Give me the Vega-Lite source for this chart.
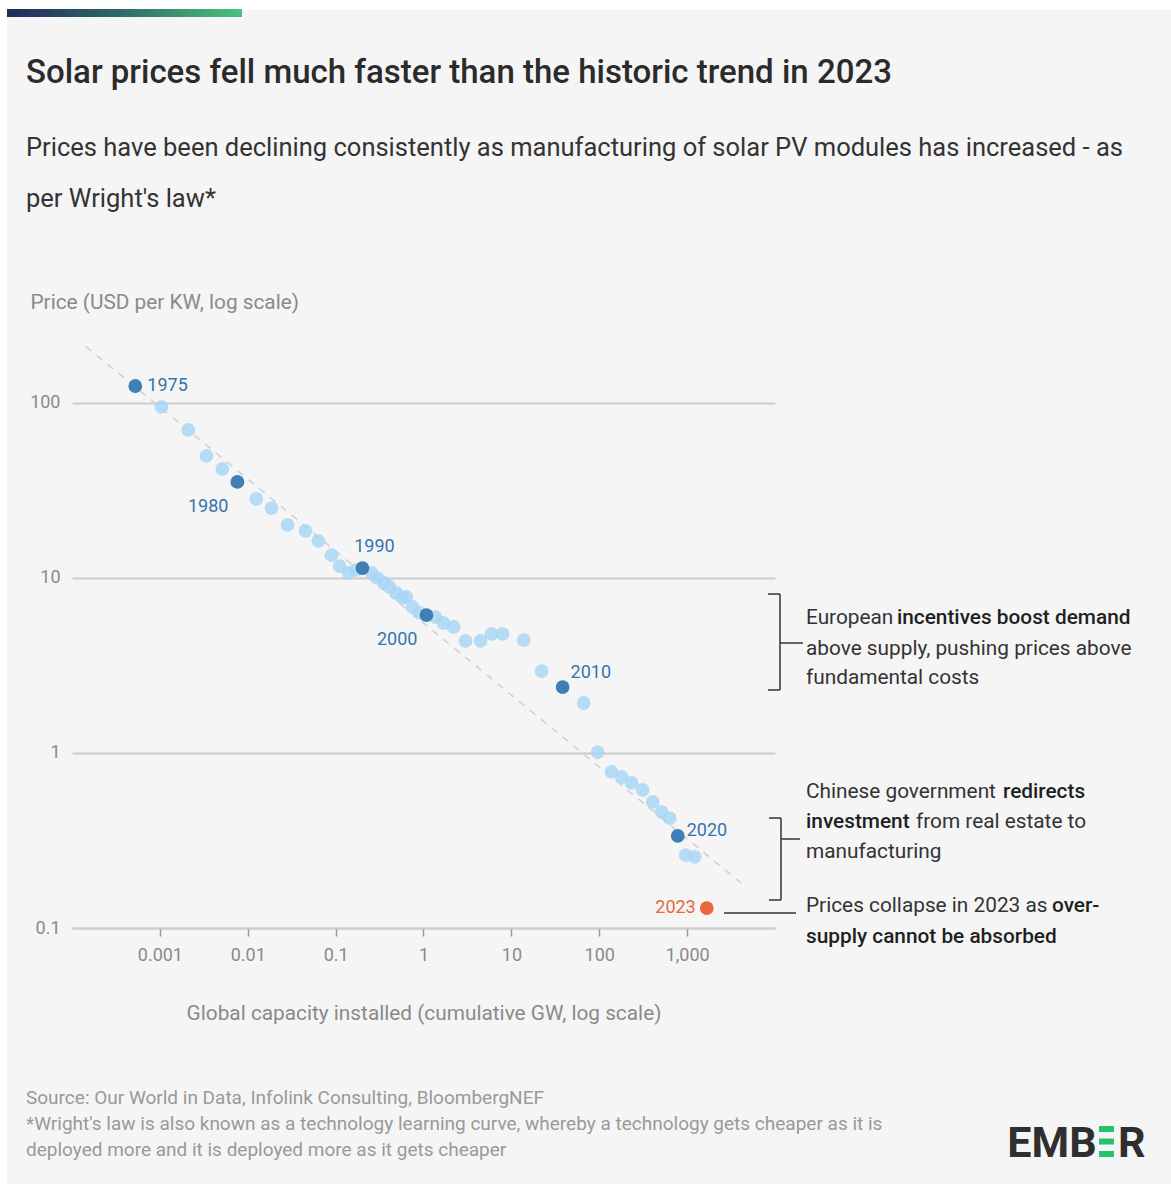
{
  "$schema": "https://vega.github.io/schema/vega-lite/v6.json",
  "width": 703,
  "height": 612,
  "autosize": {"type": "none"},
  "padding": {"left": 72, "top": 316, "right": 396, "bottom": 256},
  "background": "#f5f5f5",
  "config": {
    "font": "Roboto",
    "view": {"stroke": null}
  },
  "title": {
    "text": "Solar prices fell much faster than the historic trend in 2023",
    "subtitle": ["Prices have been declining consistently as manufacturing of solar PV modules has increased - as", "per Wright's law*"],
    "anchor": "start",
    "frame": "bounds",
    "offset": -213,
    "dx": 26,
    "fontSize": 33,
    "fontWeight": 500,
    "color": "#2b2b2b",
    "subtitleFontSize": 25.5,
    "subtitleColor": "#333333",
    "subtitleLineHeight": 51,
    "subtitlePadding": 46
  },
  "datasets": {
    "prices": [
      {"year": 1975, "gw": 0.000525, "price": 125},
      {"year": 1976, "gw": 0.00104, "price": 94.9},
      {"year": 1977, "gw": 0.0021, "price": 70.1},
      {"year": 1978, "gw": 0.00338, "price": 49.8},
      {"year": 1979, "gw": 0.00514, "price": 42.0},
      {"year": 1980, "gw": 0.00762, "price": 35.4},
      {"year": 1981, "gw": 0.0125, "price": 28.3},
      {"year": 1982, "gw": 0.0186, "price": 25.1},
      {"year": 1983, "gw": 0.0283, "price": 20.1},
      {"year": 1984, "gw": 0.0453, "price": 18.6},
      {"year": 1985, "gw": 0.0637, "price": 16.3},
      {"year": 1986, "gw": 0.0896, "price": 13.5},
      {"year": 1987, "gw": 0.111, "price": 11.7},
      {"year": 1988, "gw": 0.14, "price": 10.7},
      {"year": 1989, "gw": 0.168, "price": 11.1},
      {"year": 1990, "gw": 0.202, "price": 11.4},
      {"year": 1991, "gw": 0.256, "price": 10.7},
      {"year": 1992, "gw": 0.299, "price": 10.0},
      {"year": 1993, "gw": 0.36, "price": 9.36},
      {"year": 1994, "gw": 0.41, "price": 8.88},
      {"year": 1995, "gw": 0.493, "price": 8.21},
      {"year": 1996, "gw": 0.577, "price": 7.69},
      {"year": 1997, "gw": 0.64, "price": 7.79},
      {"year": 1998, "gw": 0.75, "price": 6.83},
      {"year": 1999, "gw": 0.9, "price": 6.31},
      {"year": 2000, "gw": 1.08, "price": 6.14},
      {"year": 2001, "gw": 1.37, "price": 5.98},
      {"year": 2002, "gw": 1.69, "price": 5.53},
      {"year": 2003, "gw": 2.2, "price": 5.25},
      {"year": 2004, "gw": 3.01, "price": 4.37},
      {"year": 2005, "gw": 4.46, "price": 4.37},
      {"year": 2006, "gw": 5.95, "price": 4.79},
      {"year": 2007, "gw": 7.94, "price": 4.79},
      {"year": 2008, "gw": 13.8, "price": 4.42},
      {"year": 2009, "gw": 22.1, "price": 2.94},
      {"year": 2010, "gw": 38.3, "price": 2.38},
      {"year": 2011, "gw": 66.4, "price": 1.93},
      {"year": 2012, "gw": 95.9, "price": 1.01},
      {"year": 2013, "gw": 138, "price": 0.779},
      {"year": 2014, "gw": 180, "price": 0.729},
      {"year": 2015, "gw": 234, "price": 0.674},
      {"year": 2016, "gw": 312, "price": 0.615},
      {"year": 2017, "gw": 406, "price": 0.525},
      {"year": 2018, "gw": 514, "price": 0.461},
      {"year": 2019, "gw": 634, "price": 0.425},
      {"year": 2020, "gw": 782, "price": 0.336},
      {"year": 2021, "gw": 964, "price": 0.261},
      {"year": 2022, "gw": 1222, "price": 0.255},
      {"year": 2023, "gw": 1672, "price": 0.13}
    ],
    "trend": [
      {"gw": 0.000144, "price": 210},
      {"gw": 4150, "price": 0.18}
    ],
    "margins": [
      {"gw": 1.516e-5, "gw2": 1.82e-5, "price": 20070, "price2": 0.003445},
      {"gw": 1.516e-5, "gw2": 3.21e8, "price": 20070, "price2": 17600}
    ],
    "accent": [
      {"gw": 1.82e-5, "gw2": 0.0086, "price": 17830, "price2": 16050}
    ],
    "brackets": [
      {"gw": 11400, "gw2": 11400, "price": 8.096, "price2": 2.291},
      {"gw": 8324, "gw2": 11400, "price": 8.096, "price2": 8.096},
      {"gw": 8324, "gw2": 11400, "price": 2.291, "price2": 2.291},
      {"gw": 11400, "gw2": 20830, "price": 4.25, "price2": 4.25},
      {"gw": 11700, "gw2": 11700, "price": 0.4251, "price2": 0.1445},
      {"gw": 8545, "gw2": 11700, "price": 0.4251, "price2": 0.4251},
      {"gw": 8545, "gw2": 11700, "price": 0.1445, "price2": 0.1445},
      {"gw": 11700, "gw2": 19250, "price": 0.3225, "price2": 0.3225},
      {"gw": 2627, "gw2": 17340, "price": 0.1219, "price2": 0.1219}
    ],
    "notes_plain": [
      {"gw": 22530, "price": 5.458, "text": "European"},
      {"gw": 22530, "price": 3.63, "text": "above supply, pushing prices above"},
      {"gw": 22530, "price": 2.479, "text": "fundamental costs"},
      {"gw": 22530, "price": 0.5531, "text": "Chinese government"},
      {"gw": 402300, "price": 0.3727, "text": "from real estate to"},
      {"gw": 22530, "price": 0.2512, "text": "manufacturing"},
      {"gw": 22530, "price": 0.1234, "text": "Prices collapse in 2023 as"}
    ],
    "notes_bold": [
      {"gw": 244500, "price": 5.458, "text": "incentives boost demand"},
      {"gw": 3932000, "price": 0.5531, "text": "redirects"},
      {"gw": 22530, "price": 0.3727, "text": "investment"},
      {"gw": 14200000, "price": 0.1234, "text": "over-"},
      {"gw": 22530, "price": 0.0821, "text": "supply cannot be absorbed"}
    ],
    "footer": [
      {"gw": 2.996e-5, "price": 0.00987, "text": "Source: Our World in Data, Infolink Consulting, BloombergNEF"},
      {"gw": 2.996e-5, "price": 0.007014, "text": "*Wright's law is also known as a technology learning curve, whereby a technology gets cheaper as it is"},
      {"gw": 2.996e-5, "price": 0.00498, "text": "deployed more and it is deployed more as it gets cheaper"}
    ],
    "logo_text": [
      {"gw": 4400000, "price": 0.004914, "text": "EMB"},
      {"gw": 80000000, "price": 0.004914, "text": "R"}
    ],
    "logo_bars": [
      {"gw": 48640000, "gw2": 72100000, "price": 0.007106, "price2": 0.007106},
      {"gw": 48640000, "gw2": 72100000, "price": 0.006026, "price2": 0.006026},
      {"gw": 48640000, "gw2": 72100000, "price": 0.005112, "price2": 0.005112}
    ]
  },
  "encoding": {
    "x": {
      "field": "gw",
      "type": "quantitative",
      "scale": {"type": "log", "domain": [0.0001, 10000], "nice": false},
      "axis": {
        "title": "Global capacity installed (cumulative GW, log scale)",
        "values": [0.001, 0.01, 0.1, 1, 10, 100, 1000],
        "format": ",~g",
        "grid": false,
        "domainColor": "#cccccc",
        "domainWidth": 2,
        "tickColor": "#999999",
        "tickSize": 8,
        "tickWidth": 1.5,
        "labelPadding": 10,
        "labelFontSize": 18,
        "labelColor": "#8a8a8a",
        "titleFontSize": 20.8,
        "titleFontWeight": "normal",
        "titleColor": "#8a8a8a",
        "titleBaseline": "middle",
        "titleY": 85
      }
    },
    "y": {
      "field": "price",
      "type": "quantitative",
      "scale": {"type": "log", "domain": [0.1, 314], "nice": false},
      "axis": {
        "title": "Price (USD per KW, log scale)",
        "values": [0.1, 1, 10, 100],
        "format": "~g",
        "grid": true,
        "gridColor": "#cccccc",
        "gridWidth": 2,
        "domain": false,
        "ticks": false,
        "labelPadding": 12,
        "labelFontSize": 18,
        "labelColor": "#8a8a8a",
        "titleFontSize": 20.8,
        "titleFontWeight": "normal",
        "titleColor": "#8a8a8a",
        "titleAngle": 0,
        "titleAlign": "left",
        "titleBaseline": "middle",
        "titleX": -42,
        "titleY": -14
      }
    }
  },
  "layer": [
    {
      "data": {"name": "margins"},
      "mark": {"type": "rect", "color": "#ffffff"},
      "encoding": {"x2": {"field": "gw2"}, "y2": {"field": "price2"}}
    },
    {
      "data": {"name": "accent"},
      "mark": {
        "type": "rect",
        "color": {"gradient": "linear", "stops": [{"offset": 0, "color": "#22295a"}, {"offset": 0.5, "color": "#2f6d6a"}, {"offset": 1, "color": "#4cc27a"}]}
      },
      "encoding": {"x2": {"field": "gw2"}, "y2": {"field": "price2"}}
    },
    {
      "data": {"name": "trend"},
      "mark": {"type": "line", "color": "#cfcfcf", "strokeWidth": 1.5, "strokeDash": [7, 7]}
    },
    {
      "data": {"name": "prices"},
      "transform": [{"filter": {"not": {"field": "year", "oneOf": [1975, 1980, 1990, 2000, 2010, 2020, 2023]}}}],
      "mark": {"type": "circle", "size": 190, "color": "#a6d6f5", "opacity": 0.8}
    },
    {
      "data": {"name": "prices"},
      "transform": [{"filter": {"field": "year", "oneOf": [1975, 1980, 1990, 2000, 2010, 2020]}}],
      "mark": {"type": "circle", "size": 190, "color": "#3f7fb5", "opacity": 1}
    },
    {
      "data": {"name": "prices"},
      "transform": [{"filter": {"field": "year", "equal": 2023}}],
      "mark": {"type": "circle", "size": 190, "color": "#e8673f", "opacity": 1}
    },
    {
      "data": {"name": "prices"},
      "transform": [{"filter": {"field": "year", "oneOf": [1975]}}],
      "mark": {"type": "text", "align": "left", "baseline": "middle", "dx": 12, "fontSize": 18, "color": "#3574ad"},
      "encoding": {"text": {"field": "year", "type": "nominal"}}
    },
    {
      "data": {"name": "prices"},
      "transform": [{"filter": {"field": "year", "oneOf": [2020]}}],
      "mark": {"type": "text", "align": "left", "baseline": "middle", "dx": 9, "dy": -5, "fontSize": 18, "color": "#3574ad"},
      "encoding": {"text": {"field": "year", "type": "nominal"}}
    },
    {
      "data": {"name": "prices"},
      "transform": [{"filter": {"field": "year", "oneOf": [1980, 2000]}}],
      "mark": {"type": "text", "align": "right", "baseline": "middle", "dx": -9, "dy": 25, "fontSize": 18, "color": "#3574ad"},
      "encoding": {"text": {"field": "year", "type": "nominal"}}
    },
    {
      "data": {"name": "prices"},
      "transform": [{"filter": {"field": "year", "equal": 1990}}],
      "mark": {"type": "text", "align": "center", "baseline": "middle", "dx": 12, "dy": -21, "fontSize": 18, "color": "#3574ad"},
      "encoding": {"text": {"field": "year", "type": "nominal"}}
    },
    {
      "data": {"name": "prices"},
      "transform": [{"filter": {"field": "year", "equal": 2010}}],
      "mark": {"type": "text", "align": "left", "baseline": "middle", "dx": 8, "dy": -14, "fontSize": 18, "color": "#3574ad"},
      "encoding": {"text": {"field": "year", "type": "nominal"}}
    },
    {
      "data": {"name": "prices"},
      "transform": [{"filter": {"field": "year", "equal": 2023}}],
      "mark": {"type": "text", "align": "right", "baseline": "middle", "dx": -11, "fontSize": 18, "color": "#e8673f"},
      "encoding": {"text": {"field": "year", "type": "nominal"}}
    },
    {
      "data": {"name": "brackets"},
      "mark": {"type": "rule", "color": "#333333", "strokeWidth": 1.5},
      "encoding": {"x2": {"field": "gw2"}, "y2": {"field": "price2"}}
    },
    {
      "data": {"name": "notes_plain"},
      "mark": {"type": "text", "align": "left", "baseline": "alphabetic", "fontSize": 20.8, "color": "#333333"},
      "encoding": {"text": {"field": "text", "type": "nominal"}}
    },
    {
      "data": {"name": "notes_bold"},
      "mark": {"type": "text", "align": "left", "baseline": "alphabetic", "fontSize": 20.8, "fontWeight": 500, "color": "#1f1f1f"},
      "encoding": {"text": {"field": "text", "type": "nominal"}}
    },
    {
      "data": {"name": "footer"},
      "mark": {"type": "text", "align": "left", "baseline": "alphabetic", "fontSize": 19, "color": "#999999"},
      "encoding": {"text": {"field": "text", "type": "nominal"}}
    },
    {
      "data": {"name": "logo_text"},
      "mark": {"type": "text", "align": "left", "baseline": "alphabetic", "fontSize": 43, "fontWeight": "bold", "color": "#2f2f2f"},
      "encoding": {"text": {"field": "text", "type": "nominal"}}
    },
    {
      "data": {"name": "logo_bars"},
      "mark": {"type": "rule", "color": "#27c26c", "strokeWidth": 6},
      "encoding": {"x2": {"field": "gw2"}, "y2": {"field": "price2"}}
    }
  ]
}
